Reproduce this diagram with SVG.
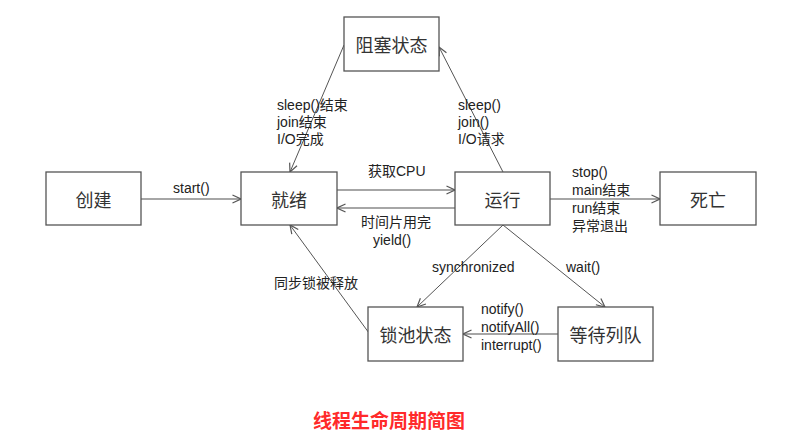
<svg xmlns="http://www.w3.org/2000/svg" width="803" height="446" viewBox="0 0 803 446">
<defs>
<marker id="ah" viewBox="0 0 10 10" refX="9.5" refY="5" markerWidth="10" markerHeight="10" markerUnits="userSpaceOnUse" orient="auto">
<path d="M1,1 L9.5,5 L1,9" fill="none" stroke="#555" stroke-width="1.2"/>
</marker>
</defs>
<style>
.box{fill:#fff;stroke:#555;stroke-width:1.3}
.nt{font-family:"Noto Sans CJK SC","Liberation Serif",serif;font-size:18px;fill:#333;text-anchor:middle;dominant-baseline:central}
.ln{stroke:#555;stroke-width:1;fill:none;marker-end:url(#ah)}
.lh{stroke:#888;stroke-width:1.6;fill:none;marker-end:url(#ah)}
.lb{font-family:"Liberation Sans","Noto Sans CJK SC",sans-serif;font-size:14px;fill:#222}
.title{font-family:"Noto Sans CJK SC",serif;font-size:19px;fill:#ff2a2a;font-weight:bold;text-anchor:middle}
</style>
<rect width="803" height="446" fill="#fff"/>
<g id="connectors">
<line class="lh" x1="141" y1="199" x2="241" y2="199"/>
<line class="lh" x1="337" y1="190" x2="455" y2="190"/>
<line class="lh" x1="455" y1="208" x2="337" y2="208"/>
<line class="lh" x1="550" y1="199" x2="660" y2="199"/>
<line class="ln" x1="344" y1="45" x2="290" y2="172"/>
<line class="ln" x1="503" y1="172" x2="439" y2="47"/>
<line class="ln" x1="503" y1="225" x2="417" y2="307"/>
<line class="ln" x1="503" y1="225" x2="605" y2="307"/>
<line class="ln" x1="369" y1="333" x2="290" y2="225"/>
<line class="lh" x1="558" y1="334" x2="463" y2="334"/>
</g>
<g id="labels">
<text class="lb" x="173" y="193">start()</text>
<text class="lb" x="368" y="176">获取CPU</text>
<text class="lb" x="361" y="227">时间片用完</text>
<text class="lb" x="373" y="245">yield()</text>
<text class="lb" x="572" y="177">stop()</text>
<text class="lb" x="572" y="195">main结束</text>
<text class="lb" x="572" y="213">run结束</text>
<text class="lb" x="572" y="231">异常退出</text>
<text class="lb" x="277" y="110">sleep()结束</text>
<text class="lb" x="277" y="127">join结束</text>
<text class="lb" x="277" y="144">I/O完成</text>
<text class="lb" x="458" y="110">sleep()</text>
<text class="lb" x="458" y="127">join()</text>
<text class="lb" x="458" y="144">I/O请求</text>
<text class="lb" x="432" y="272">synchronized</text>
<text class="lb" x="566" y="272">wait()</text>
<text class="lb" x="274" y="288">同步锁被释放</text>
<text class="lb" x="481" y="314">notify()</text>
<text class="lb" x="481" y="332">notifyAll()</text>
<text class="lb" x="481" y="350">interrupt()</text>
</g>
<g id="n-blocked"><rect class="box" x="344" y="17" width="95" height="54"/><text class="nt" x="391.5" y="44">阻塞状态</text></g>
<g id="n-new"><rect class="box" x="46" y="172" width="95" height="53"/><text class="nt" x="93.5" y="198.5">创建</text></g>
<g id="n-ready"><rect class="box" x="241" y="172" width="96" height="53"/><text class="nt" x="289" y="198.5">就绪</text></g>
<g id="n-running"><rect class="box" x="455" y="172" width="95" height="53"/><text class="nt" x="502.5" y="198.5">运行</text></g>
<g id="n-dead"><rect class="box" x="660" y="172" width="96" height="53"/><text class="nt" x="708" y="198.5">死亡</text></g>
<g id="n-lockpool"><rect class="box" x="368" y="307" width="95" height="54"/><text class="nt" x="415.5" y="334">锁池状态</text></g>
<g id="n-waiting"><rect class="box" x="558" y="307" width="95" height="54"/><text class="nt" x="605.5" y="334">等待列队</text></g>
<text class="title" x="389" y="428">线程生命周期简图</text>
</svg>
